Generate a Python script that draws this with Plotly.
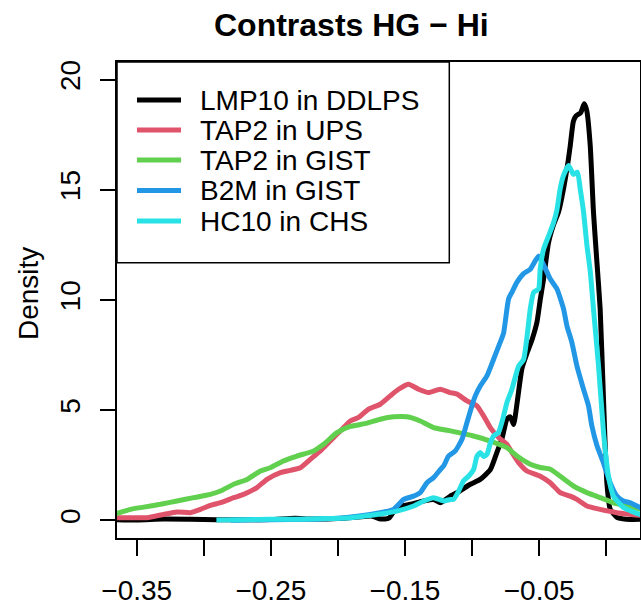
import plotly.graph_objects as go

# ---------------- data ----------------
series_names = ["LMP10 in DDLPS", "TAP2 in UPS", "TAP2 in GIST", "B2M in GIST", "HC10 in CHS"]
series_colors = ["#000000", "#DF536B", "#61D04F", "#2297E6", "#28E2E5"]

lmp10_ddlps_x = [-0.37, -0.35, -0.33, -0.31, -0.29, -0.27, -0.25, -0.232, -0.22, -0.20, -0.185, -0.175,
                 -0.168, -0.162, -0.156, -0.146, -0.136, -0.1287, -0.1237, -0.1212, -0.1162, -0.11,
                 -0.1013, -0.0939, -0.0864, -0.0814, -0.0777, -0.074, -0.0715, -0.069, -0.0665, -0.0628,
                 -0.059, -0.0553, -0.0516, -0.0492, -0.0467, -0.043, -0.0393, -0.0355, -0.0318, -0.0285,
                 -0.0268, -0.0245, -0.0225, -0.019, -0.0164, -0.0145, -0.0119, -0.0095, -0.0069, -0.0045,
                 -0.002, 0.0005, 0.003, 0.008, 0.015, 0.03]
lmp10_ddlps_y = [0.04, 0.02, 0.06, 0.05, 0.03, 0.03, 0.04, 0.1, 0.06, 0.08, 0.15, 0.2,
                 0.06, 0.1, 0.6, 0.73, 0.88, 0.95, 0.8, 0.88, 1.1, 1.3,
                 1.64, 1.86, 2.3, 3.1, 3.7, 4.6, 4.7, 4.35, 5.3, 6.9,
                 7.6, 8.2, 9.0, 10.0, 10.95, 12.6, 13.4, 14.0, 15.05, 16.26,
                 17.0, 18.1, 18.35, 18.5, 18.9, 18.6, 17.0, 14.0, 11.7, 9.6,
                 5.5, 1.7, 0.5, 0.14, 0.05, 0.05]

tap2_ups_x = [-0.37, -0.3547, -0.3423, -0.3299, -0.3199, -0.31, -0.3025, -0.2951, -0.2876, -0.2777,
              -0.2703, -0.2603, -0.2529, -0.2429, -0.2355, -0.228, -0.2206, -0.2131, -0.2057, -0.1969,
              -0.1908, -0.1846, -0.1771, -0.1684, -0.161, -0.1548, -0.1473, -0.1399, -0.1324, -0.1237,
              -0.1162, -0.1112, -0.1038, -0.0964, -0.0914, -0.0864, -0.0802, -0.074, -0.0703, -0.0653,
              -0.0591, -0.0492, -0.0417, -0.0343, -0.0268, -0.0218, -0.0144, -0.0045, 0.008, 0.03]
tap2_ups_y = [0.12, 0.12, 0.12, 0.27, 0.38, 0.35, 0.5, 0.68, 0.8, 1.03,
              1.18, 1.49, 1.86, 2.17, 2.27, 2.39, 2.77, 3.15, 3.6, 4.14,
              4.51, 4.67, 5.05, 5.27, 5.65, 5.95, 6.18, 5.95, 5.8, 5.95,
              5.8, 5.73, 5.42, 5.2, 4.74, 4.21, 3.76, 3.45, 3.08, 2.62,
              2.24, 2.0, 1.71, 1.26, 1.1, 0.95, 0.65, 0.5, 0.35, 0.2]

tap2_gist_x = [-0.37, -0.3646, -0.3547, -0.3448, -0.3323, -0.3199, -0.3075, -0.2951, -0.2876, -0.2777,
               -0.2677, -0.2578, -0.2504, -0.2405, -0.2305, -0.2181, -0.2107, -0.2007, -0.1908, -0.1783,
               -0.1684, -0.1585, -0.1485, -0.1386, -0.1287, -0.1162, -0.0989, -0.0864, -0.074, -0.0665,
               -0.0566, -0.0492, -0.0417, -0.0343, -0.0244, -0.0144, -0.0045, 0.0054, 0.0154, 0.03]
tap2_gist_y = [0.25, 0.32, 0.5, 0.6, 0.73, 0.88, 1.03, 1.18, 1.33, 1.64,
               1.86, 2.24, 2.39, 2.7, 2.92, 3.15, 3.45, 3.98, 4.26, 4.41,
               4.59, 4.7, 4.7, 4.51, 4.21, 4.06, 3.83, 3.6, 3.3, 2.92,
               2.55, 2.4, 2.32, 2.0, 1.56, 1.26, 1.03, 0.8, 0.65, 0.45]

b2m_gist_x = [-0.28, -0.25, -0.22, -0.20, -0.1758, -0.1585, -0.151, -0.1436, -0.1386, -0.1336,
              -0.1287, -0.1237, -0.1212, -0.1175, -0.1125, -0.1075, -0.1038, -0.1001, -0.0976, -0.0939,
              -0.0889, -0.084, -0.0802, -0.0765, -0.0728, -0.0703, -0.0666, -0.0616, -0.0566, -0.0504,
              -0.0467, -0.0417, -0.0367, -0.0318, -0.0293, -0.0256, -0.0218, -0.0169, -0.0132, -0.0107,
              -0.0069, -0.002, 0.003, 0.008, 0.0129, 0.0179, 0.0252, 0.03]
b2m_gist_y = [0.01, 0.03, 0.05, 0.1, 0.27, 0.5, 0.95, 1.1, 1.26, 1.71,
              1.94, 2.3, 2.47, 2.92, 3.15, 3.68, 4.44, 5.2, 5.65, 6.1,
              6.56, 7.3, 7.9, 8.5, 10.05, 10.35, 10.8, 11.2, 11.4, 12.0,
              11.6, 10.95, 10.5, 9.6, 8.83, 8.08, 7.0, 5.95, 5.2, 4.29,
              3.4, 2.6, 1.7, 1.1, 0.88, 0.8, 0.58, 0.45]

hc10_chs_x = [-0.2906, -0.27, -0.25, -0.23, -0.21, -0.19, -0.175, -0.156, -0.1436, -0.136,
              -0.1287, -0.1212, -0.1162, -0.1138, -0.11, -0.1063, -0.1026, -0.0989, -0.0964, -0.0939,
              -0.0914, -0.0889, -0.0864, -0.084, -0.0802, -0.0765, -0.074, -0.0703, -0.0653, -0.0616,
              -0.0587, -0.0566, -0.0541, -0.0504, -0.0492, -0.0467, -0.043, -0.0393, -0.0367, -0.0343,
              -0.0318, -0.0281, -0.0244, -0.0214, -0.0194, -0.0169, -0.0144, -0.0119, -0.0095, -0.0057,
              -0.002, 0.0017, 0.0054, 0.0129, 0.0252, 0.03]
hc10_chs_y = [0.02, 0.03, 0.05, 0.05, 0.08, 0.12, 0.23, 0.42, 0.65, 0.88,
              1.03, 0.88, 0.95, 0.95, 1.33, 1.8, 2.0, 2.3, 2.9, 3.08,
              2.9, 3.0, 3.5, 3.83, 4.0, 4.74, 5.35, 5.95, 7.0, 7.3,
              8.5, 9.6, 10.35, 10.5, 11.4, 12.3, 12.9, 13.5, 14.1, 15.05,
              15.65, 16.1, 15.7, 15.8, 15.05, 14.0, 12.5, 11.3, 9.6, 7.0,
              4.0, 2.0, 1.1, 0.58, 0.27, 0.2]

x_tick_values = [-0.35, -0.30, -0.25, -0.20, -0.15, -0.10, -0.05, 0.00]
x_tick_labels = ["\u22120.35", "", "\u22120.25", "", "\u22120.15", "", "\u22120.05", ""]
y_tick_values = [0, 5, 10, 15, 20]
y_tick_labels = ["0", "5", "10", "15", "20"]

title_text = "Contrasts HG \u2212 Hi"
y_title_text = "Density"

# ---------------- layout geometry ----------------
FIG_W, FIG_H = 641, 605
M_L, M_R, M_T, M_B = 117, 1, 62, 67
PW = FIG_W - M_L - M_R
PH = FIG_H - M_T - M_B
FONT = "Liberation Sans, Arial, Helvetica, sans-serif"
FS = 28


def xp(px):
    return (px - M_L) / PW


def yp(py):
    return (FIG_H - M_B - py) / PH


series_x = [lmp10_ddlps_x, tap2_ups_x, tap2_gist_x, b2m_gist_x, hc10_chs_x]
series_y = [lmp10_ddlps_y, tap2_ups_y, tap2_gist_y, b2m_gist_y, hc10_chs_y]

fig = go.Figure()
for name, col, xs, ys in zip(series_names, series_colors, series_x, series_y):
    fig.add_trace(go.Scatter(x=xs, y=ys, mode="lines", name=name,
                             line=dict(color=col, width=5, shape="spline", smoothing=0.5),
                             showlegend=False))

# manual R-style legend
shapes = [dict(type="rect", xref="paper", yref="paper",
               x0=xp(117), x1=xp(449.3), y0=yp(262.7), y1=yp(62),
               line=dict(color="black", width=1.5), fillcolor="white", layer="above")]
annotations = []
row_y = [100, 130, 160, 190.5, 221]
for name, col, ry in zip(series_names, series_colors, row_y):
    shapes.append(dict(type="line", xref="paper", yref="paper",
                       x0=xp(137), x1=xp(181), y0=yp(ry), y1=yp(ry),
                       line=dict(color=col, width=5), layer="above"))
    annotations.append(dict(text=name, xref="paper", yref="paper", x=xp(198), y=yp(ry),
                            xanchor="left", yanchor="middle", showarrow=False,
                            font=dict(family=FONT, size=FS, color="black")))

annotations.append(dict(text="<b>" + title_text + "</b>", xref="paper", yref="paper",
                        x=xp(351.5), y=yp(25), xanchor="center", yanchor="middle",
                        showarrow=False, font=dict(family=FONT, size=32, color="black")))
annotations.append(dict(text=y_title_text, xref="paper", yref="paper",
                        x=xp(28), y=yp(294), xanchor="center", yanchor="middle", textangle=-90,
                        showarrow=False, font=dict(family=FONT, size=FS, color="black")))

fig.update_layout(
    width=FIG_W, height=FIG_H,
    margin=dict(l=M_L, r=M_R, t=M_T, b=M_B, pad=0, autoexpand=False),
    paper_bgcolor="white", plot_bgcolor="white",
    font=dict(family=FONT, size=FS, color="black"),
    shapes=shapes, annotations=annotations,
    showlegend=False,
)
fig.update_xaxes(range=[-0.3647, 0.0252], tickvals=x_tick_values, ticktext=x_tick_labels,
                 showline=True, mirror=True, linecolor="black", linewidth=1.5,
                 ticks="outside", ticklen=16, tickwidth=1.5, tickcolor="black",
                 showgrid=False, zeroline=False, ticklabelstandoff=11, automargin=False,
                 tickfont=dict(family=FONT, size=FS, color="black"))
fig.update_yaxes(range=[-0.8, 20.8], tickvals=y_tick_values, ticktext=y_tick_labels,
                 showline=True, mirror=True, linecolor="black", linewidth=1.5,
                 ticks="outside", ticklen=15, tickwidth=1.5, tickcolor="black",
                 showgrid=False, zeroline=False, tickangle=-90, ticklabelstandoff=9,
                 automargin=False,
                 tickfont=dict(family=FONT, size=FS, color="black"))

fig.write_html("out.html")
